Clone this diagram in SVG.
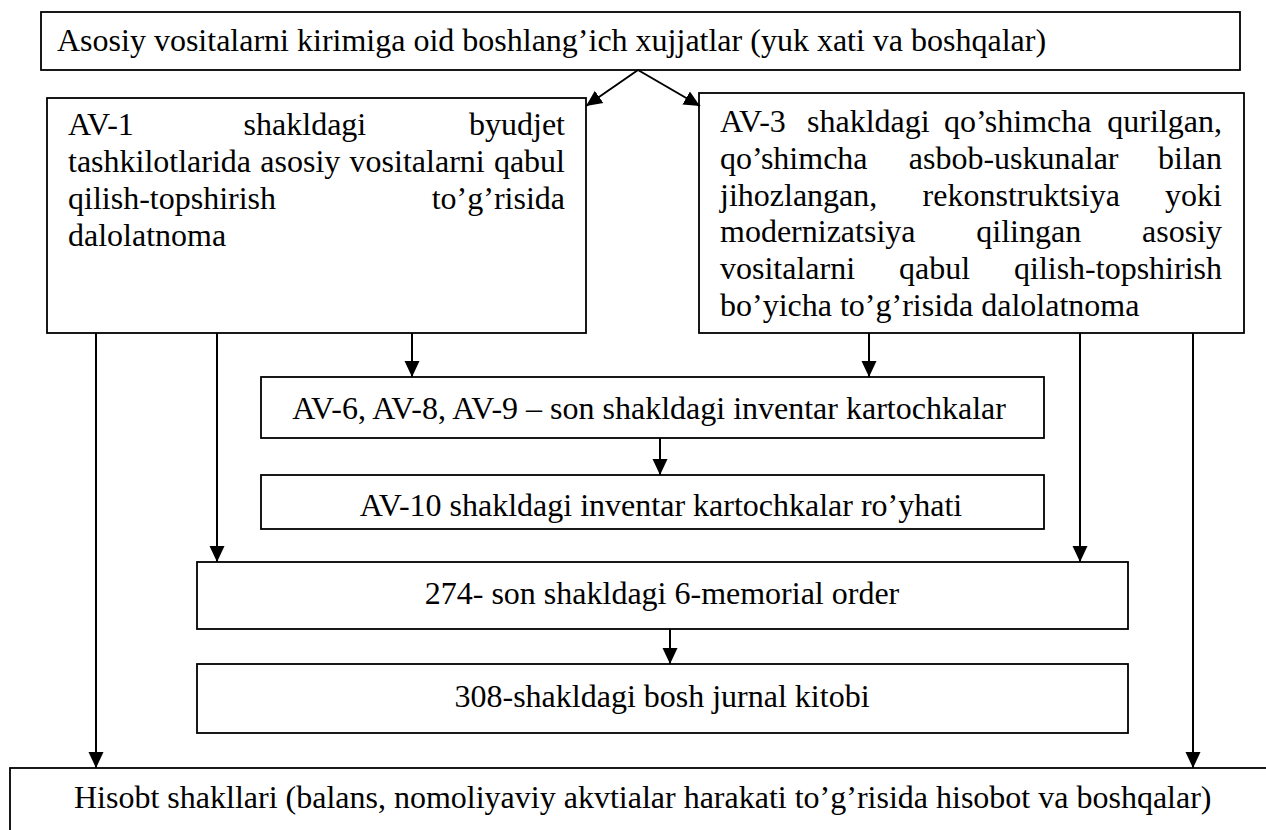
<svg xmlns="http://www.w3.org/2000/svg" width="1266" height="830" viewBox="0 0 1266 830">
  <style>
    .box { fill: #fff; stroke: #000; stroke-width: 1.8; }
    text { font-family: 'Liberation Serif', 'Times New Roman', Times, 'DejaVu Serif', serif; font-size: 32px; fill: #000; }
    .e { text-anchor: end; }
    .m { text-anchor: middle; }
    .link { fill: none; stroke: #000; stroke-width: 2; marker-end: url(#head); }
  </style>
  <defs>
    <marker id="head" markerUnits="userSpaceOnUse" markerWidth="18" markerHeight="18" viewBox="0 -9 18 18" refX="16" refY="0" orient="auto">
      <path d="M0,-7.5 L16,0 L0,7.5 z" fill="#000"/>
    </marker>
  </defs>
  <rect width="1266" height="830" fill="#fff"/>

  <!-- source documents -->
  <g id="node-source">
    <rect class="box" x="41" y="12" width="1199" height="58"/>
    <text x="57" y="51">Asosiy vositalarni kirimiga oid boshlang’ich xujjatlar (yuk xati va boshqalar)</text>
  </g>

  <!-- AV-1 act (justified paragraph) -->
  <g id="node-av1">
    <rect class="box" x="47" y="98" width="539" height="235"/>
    <text x="68" y="135">AV-1</text>
    <text x="243.6" y="135">shakldagi</text>
    <text class="e" x="565" y="135">byudjet</text>
    <text x="68" y="172">tashkilotlarida</text>
    <text x="260.3" y="172">asosiy</text>
    <text x="349.6" y="172">vositalarni</text>
    <text class="e" x="565" y="172">qabul</text>
    <text x="68" y="209">qilish-topshirish</text>
    <text class="e" x="565" y="209">to’g’risida</text>
    <text x="68" y="246">dalolatnoma</text>
  </g>

  <!-- AV-3 act (justified paragraph) -->
  <g id="node-av3">
    <rect class="box" x="699" y="93" width="545" height="240"/>
    <text x="720" y="132">AV-3</text>
    <text x="807" y="132">shakldagi</text>
    <text x="943.9" y="132">qo’shimcha</text>
    <text class="e" x="1222" y="132">qurilgan,</text>
    <text x="720" y="168.8">qo’shimcha</text>
    <text x="908.8" y="168.8">asbob-uskunalar</text>
    <text class="e" x="1222" y="168.8">bilan</text>
    <text x="720" y="205.6">jihozlangan,</text>
    <text x="922.6" y="205.6">rekonstruktsiya</text>
    <text class="e" x="1222" y="205.6">yoki</text>
    <text x="720" y="242.4">modernizatsiya</text>
    <text x="976.3" y="242.4">qilingan</text>
    <text class="e" x="1222" y="242.4">asosiy</text>
    <text x="720" y="279.2">vositalarni</text>
    <text x="899" y="279.2">qabul</text>
    <text class="e" x="1222" y="279.2">qilish-topshirish</text>
    <text x="720" y="316">bo’yicha to’g’risida dalolatnoma</text>
  </g>

  <g id="node-cards">
    <rect class="box" x="261" y="377" width="783" height="61"/>
    <text class="m" x="649" y="419">AV-6, AV-8, AV-9 – son shakldagi inventar kartochkalar</text>
  </g>

  <g id="node-register">
    <rect class="box" x="261" y="475" width="783" height="54"/>
    <text class="m" x="661" y="516">AV-10 shakldagi inventar kartochkalar ro’yhati</text>
  </g>

  <g id="node-order">
    <rect class="box" x="197" y="562" width="931" height="67"/>
    <text class="m" x="662" y="604">274- son shakldagi 6-memorial order</text>
  </g>

  <g id="node-journal">
    <rect class="box" x="197" y="664" width="931" height="69"/>
    <text class="m" x="662" y="707">308-shakldagi bosh jurnal kitobi</text>
  </g>

  <g id="node-reports">
    <rect class="box" x="10" y="768" width="1264" height="70"/>
    <text x="74" y="808">Hisobt shakllari (balans, nomoliyaviy akvtialar harakati to’g’risida hisobot va boshqalar)</text>
  </g>

  <!-- connectors -->
  <g id="connectors">
    <path class="link" d="M638,70 L586,106"/>
    <path class="link" d="M638,70 L700,106"/>
    <path class="link" d="M96,333 V768"/>
    <path class="link" d="M217,333 V562"/>
    <path class="link" d="M412,333 V377"/>
    <path class="link" d="M869,333 V377"/>
    <path class="link" d="M1080,333 V562"/>
    <path class="link" d="M1193,333 V768"/>
    <path class="link" d="M660,438 V475"/>
    <path class="link" d="M670,629 V664"/>
  </g>
</svg>
